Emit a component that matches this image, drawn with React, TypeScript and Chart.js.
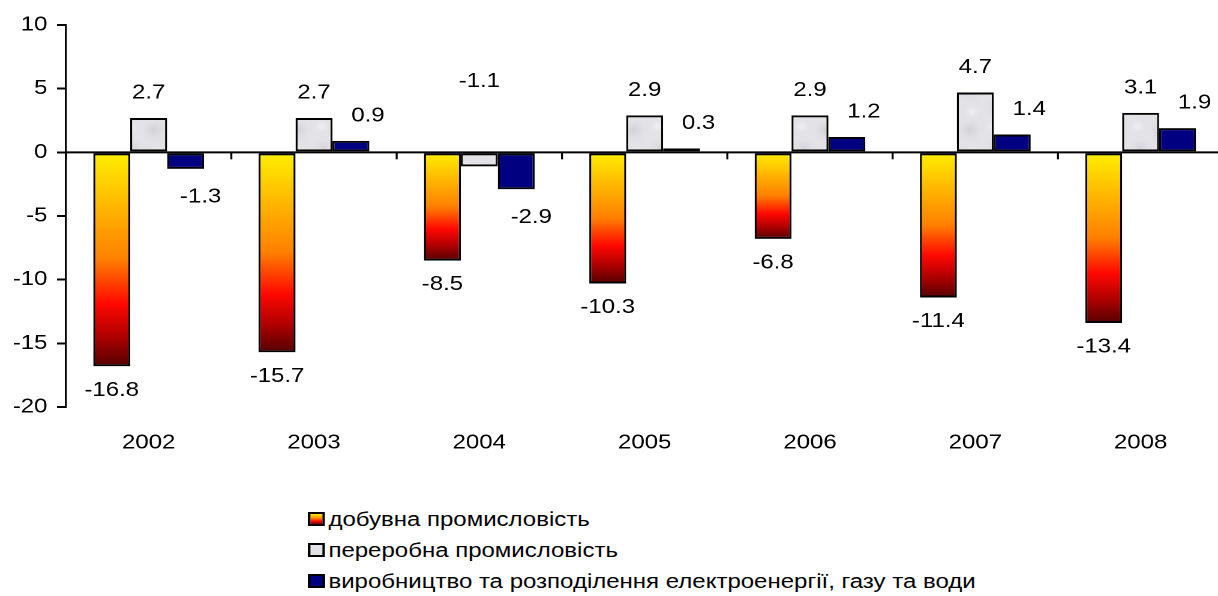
import React, { useEffect, useRef } from 'react';
import { Chart, registerables } from 'chart.js';

Chart.register(...registerables);

// ---- data ----
const categories = ['2002', '2003', '2004', '2005', '2006', '2007', '2008'];
const mining = [-16.8, -15.7, -8.5, -10.3, -6.8, -11.4, -13.4];
const manufacturing = [2.7, 2.7, -1.1, 2.9, 2.9, 4.7, 3.1];
const utilities = [-1.3, 0.9, -2.9, 0.3, 1.2, 1.4, 1.9];
const seriesNames = [
  'добувна промисловість',
  'переробна промисловість',
  'виробництво та розподілення електроенергії, газу та води',
];
const yMin = -20;
const yMax = 10;
const yStep = 5;

// ---- layout / style ----
const S = 1.2; // horizontal stretch of the original picture
const CANVAS_W = 1030;
const CANVAS_H = 470;
const FONT = '"Liberation Sans", Arial, sans-serif';

function makeMarblePattern(ctx: CanvasRenderingContext2D) {
  const c = document.createElement('canvas');
  c.width = 40;
  c.height = 40;
  const p = c.getContext('2d')!;
  p.fillStyle = '#e3e3e7';
  p.fillRect(0, 0, 40, 40);
  const blobs = [
    [8, 10, 12, 'rgba(200,200,206,0.7)'],
    [30, 28, 10, 'rgba(205,205,210,0.6)'],
    [28, 6, 9, 'rgba(245,245,247,0.8)'],
    [10, 32, 9, 'rgba(246,246,248,0.8)'],
  ] as const;
  for (const [x, y, r, col] of blobs) {
    const g = p.createRadialGradient(x, y, 0, x, y, r);
    g.addColorStop(0, col);
    g.addColorStop(1, 'rgba(227,227,231,0)');
    p.fillStyle = g;
    p.fillRect(0, 0, 40, 40);
  }
  return ctx.createPattern(c, 'repeat');
}

const labelPlugin = {
  id: 'customDraw',
  afterDatasetsDraw(chart: any) {
    const ctx: CanvasRenderingContext2D = chart.ctx;
    const { chartArea, scales } = chart;
    const y = scales.y;
    const y0 = y.getPixelForValue(0);
    ctx.save();
    // zero line
    ctx.strokeStyle = '#000';
    ctx.lineWidth = 2;
    ctx.beginPath();
    ctx.moveTo(chartArea.left, y0);
    ctx.lineTo(chartArea.right, y0);
    ctx.stroke();
    // category boundary ticks
    ctx.lineWidth = 2 / S;
    const n = categories.length;
    const w = (chartArea.right - chartArea.left) / n;
    for (let i = 0; i <= n; i++) {
      const x = chartArea.left + i * w;
      ctx.beginPath();
      ctx.moveTo(x, y0);
      ctx.lineTo(x, y0 + 7);
      ctx.stroke();
    }
    // value labels
    ctx.fillStyle = '#000';
    ctx.font = `20px ${FONT}`;
    ctx.textAlign = 'center';
    ctx.textBaseline = 'middle';
    chart.data.datasets.forEach((ds: any, di: number) => {
      const meta = chart.getDatasetMeta(di);
      meta.data.forEach((bar: any, i: number) => {
        const v = ds.data[i];
        const txt = v.toFixed(1);
        let lx = bar.x;
        let ly = bar.y;
        if (di === 0) {
          ly = v < 0 ? bar.y + 24 : bar.y - 26;
        } else if (di === 1) {
          ly = v >= 0 ? bar.y - 25 : y0 - 71;
        } else {
          if (v >= 0) {
            lx = bar.x + 17 / S;
            ly = bar.y - 25;
          } else {
            lx = bar.x + 15 / S;
            ly = bar.y + 28;
          }
        }
        ctx.fillText(txt, lx, ly);
      });
    });
    ctx.restore();
  },
};

export default function App() {
  const ref = useRef<HTMLCanvasElement>(null);

  useEffect(() => {
    const canvas = ref.current!;
    const ctx2d = canvas.getContext('2d')!;
    const marble = makeMarblePattern(ctx2d);

    const fireGradient = (c: any) => {
      const chart = c.chart;
      if (!chart.chartArea || c.type !== 'data') return '#ff8000';
      const y = chart.scales.y;
      const v = c.raw as number;
      const p0 = y.getPixelForValue(0);
      const p1 = y.getPixelForValue(v);
      if (Math.abs(p1 - p0) < 1) return '#fff000';
      const g = chart.ctx.createLinearGradient(0, p0, 0, p1);
      g.addColorStop(0, '#fff000');
      g.addColorStop(0.22, '#ffbe00');
      g.addColorStop(0.5, '#ff8000');
      g.addColorStop(0.71, '#ff0800');
      g.addColorStop(0.86, '#b00000');
      g.addColorStop(1, '#550000');
      return g;
    };

    const border = { top: 2, bottom: 2, left: 1.7, right: 1.7 };

    const chart = new Chart(canvas, {
      type: 'bar',
      data: {
        labels: categories,
        datasets: [
          {
            label: seriesNames[0],
            data: mining,
            backgroundColor: fireGradient,
            borderColor: '#000',
            borderWidth: border,
            borderSkipped: false,
          },
          {
            label: seriesNames[1],
            data: manufacturing,
            backgroundColor: marble || '#e3e3e7',
            borderColor: '#000',
            borderWidth: border,
            borderSkipped: false,
          },
          {
            label: seriesNames[2],
            data: utilities,
            backgroundColor: '#000080',
            borderColor: '#000',
            borderWidth: border,
            borderSkipped: false,
          },
        ],
      },
      options: {
        responsive: false,
        animation: false,
        devicePixelRatio: 2,
        events: [],
        categoryPercentage: 0.67,
        barPercentage: 1.0,
        layout: { padding: { top: 25, right: 10.6, bottom: 0, left: 0 } },
        plugins: {
          legend: { display: false },
          tooltip: { enabled: false },
        },
        scales: {
          x: {
            grid: { display: false },
            border: { display: false },
            ticks: {
              color: '#000',
              font: { family: FONT, size: 20 },
              padding: 16,
              maxRotation: 0,
              autoSkip: false,
            },
            afterFit: (s: any) => {
              s.height = CANVAS_H - 407;
            },
          },
          y: {
            min: yMin,
            max: yMax,
            ticks: {
              stepSize: yStep,
              color: '#000',
              font: { family: FONT, size: 20 },
              padding: 8,
            },
            grid: {
              display: true,
              drawOnChartArea: false,
              drawTicks: true,
              tickLength: 7.5,
              color: '#000',
              lineWidth: 2,
            },
            border: { display: true, color: '#000', width: 2 / S },
            afterFit: (s: any) => {
              s.width = 55;
            },
          },
        },
      },
      plugins: [labelPlugin],
    } as any);

    return () => chart.destroy();
  }, []);

  const swatches = [
    'linear-gradient(to bottom, #fff000, #ff9000 40%, #ff1000 70%, #700000)',
    '#e3e3e7',
    '#000080',
  ];

  return (
    <div
      style={{
        position: 'fixed',
        left: 0,
        top: 0,
        width: 1218,
        height: 596,
        overflow: 'hidden',
        background: '#fff',
      }}
    >
      <canvas
        ref={ref}
        width={CANVAS_W}
        height={CANVAS_H}
        style={{
          position: 'absolute',
          left: 0,
          top: 0,
          width: `${CANVAS_W * S}px`,
          height: `${CANVAS_H}px`,
        }}
      />
      <div
        style={{
          position: 'absolute',
          left: 308,
          top: 503.5,
          transform: `scaleX(${S})`,
          transformOrigin: '0 0',
          font: `20px ${FONT}`,
          color: '#000',
        }}
      >
        {seriesNames.map((name, i) => (
          <div
            key={i}
            style={{
              display: 'flex',
              alignItems: 'center',
              height: 31,
              whiteSpace: 'nowrap',
            }}
          >
            <span
              style={{
                display: 'inline-block',
                width: 10,
                height: 10,
                border: '2px solid #000',
                background: swatches[i],
                marginRight: 3,
                flex: '0 0 auto',
              }}
            />
            <span>{name}</span>
          </div>
        ))}
      </div>
    </div>
  );
}
